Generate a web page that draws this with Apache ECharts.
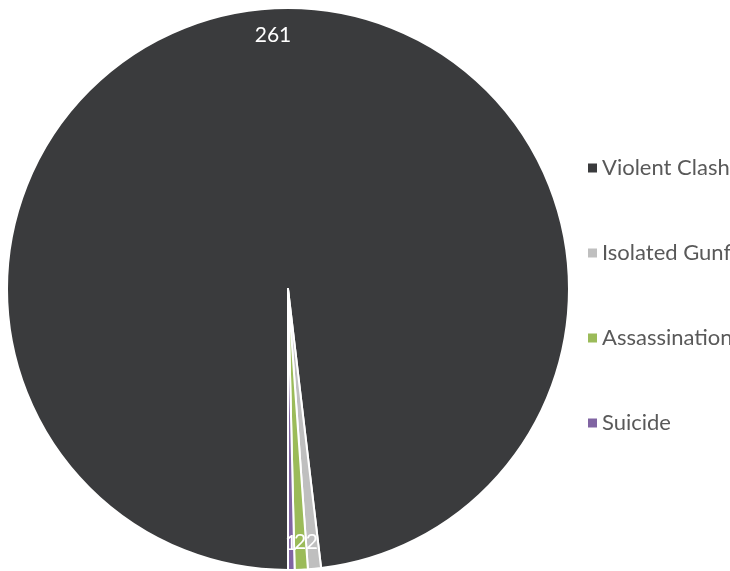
<!DOCTYPE html>
<html>
<head>
<meta charset="utf-8">
<script src="https://cdn.jsdelivr.net/npm/echarts@6/dist/echarts.min.js"></script>
<style>
  html, body { margin: 0; padding: 0; background: #fff; }
  #main { width: 730px; height: 571px; }
</style>
</head>
<body>
<div id="main"></div>
<script>
// 数据
var categories = ['Violent Clash', 'Isolated Gunfight', 'Assassination', 'Suicide'];
var values = [261, 2, 2, 1];
var colors = ['#3a3b3d', '#bfbfbf', '#9bbb59', '#8064a2'];

var pieData = categories.map(function (name, i) {
    return { name: name, value: values[i], itemStyle: { color: colors[i] } };
});
// 标签用的透明环（标签放在外缘内侧）
var labelData = categories.map(function (name, i) {
    return { name: name, value: values[i] };
});

var myChart = echarts.init(document.getElementById('main'));
var option = {
    animation: false,
    legend: {
        orient: 'vertical',
        left: 583,
        top: 152,
        itemWidth: 9,
        itemHeight: 9,
        itemGap: 63,
        icon: 'rect',
        data: categories,
        itemStyle: { borderWidth: 0 },
        textStyle: {
            color: '#595959',
            fontFamily: 'Lato',
            fontSize: 22,
            lineHeight: 22
        }
    },
    series: [
        {
            name: 'main',
            type: 'pie',
            center: [288, 289],
            radius: [0, 281],
            startAngle: -90,
            clockwise: true,
            silent: true,
            label: { show: false },
            labelLine: { show: false },
            itemStyle: {
                borderColor: '#fff',
                borderWidth: 2
            },
            data: pieData
        },
        {
            name: 'labels',
            type: 'pie',
            center: [288, 289],
            radius: [221, 281],
            startAngle: -90,
            clockwise: true,
            silent: true,
            minShowLabelAngle: 0,
            avoidLabelOverlap: false,
            itemStyle: { color: 'transparent' },
            label: {
                show: true,
                position: 'inside',
                formatter: '{c}',
                color: '#fff',
                fontFamily: 'Lato',
                fontSize: 21,
                overflow: 'none'
            },
            labelLayout: { hideOverlap: false },
            labelLine: { show: false },
            data: labelData
        }
    ]
};
myChart.setOption(option);
</script>
</body>
</html>
